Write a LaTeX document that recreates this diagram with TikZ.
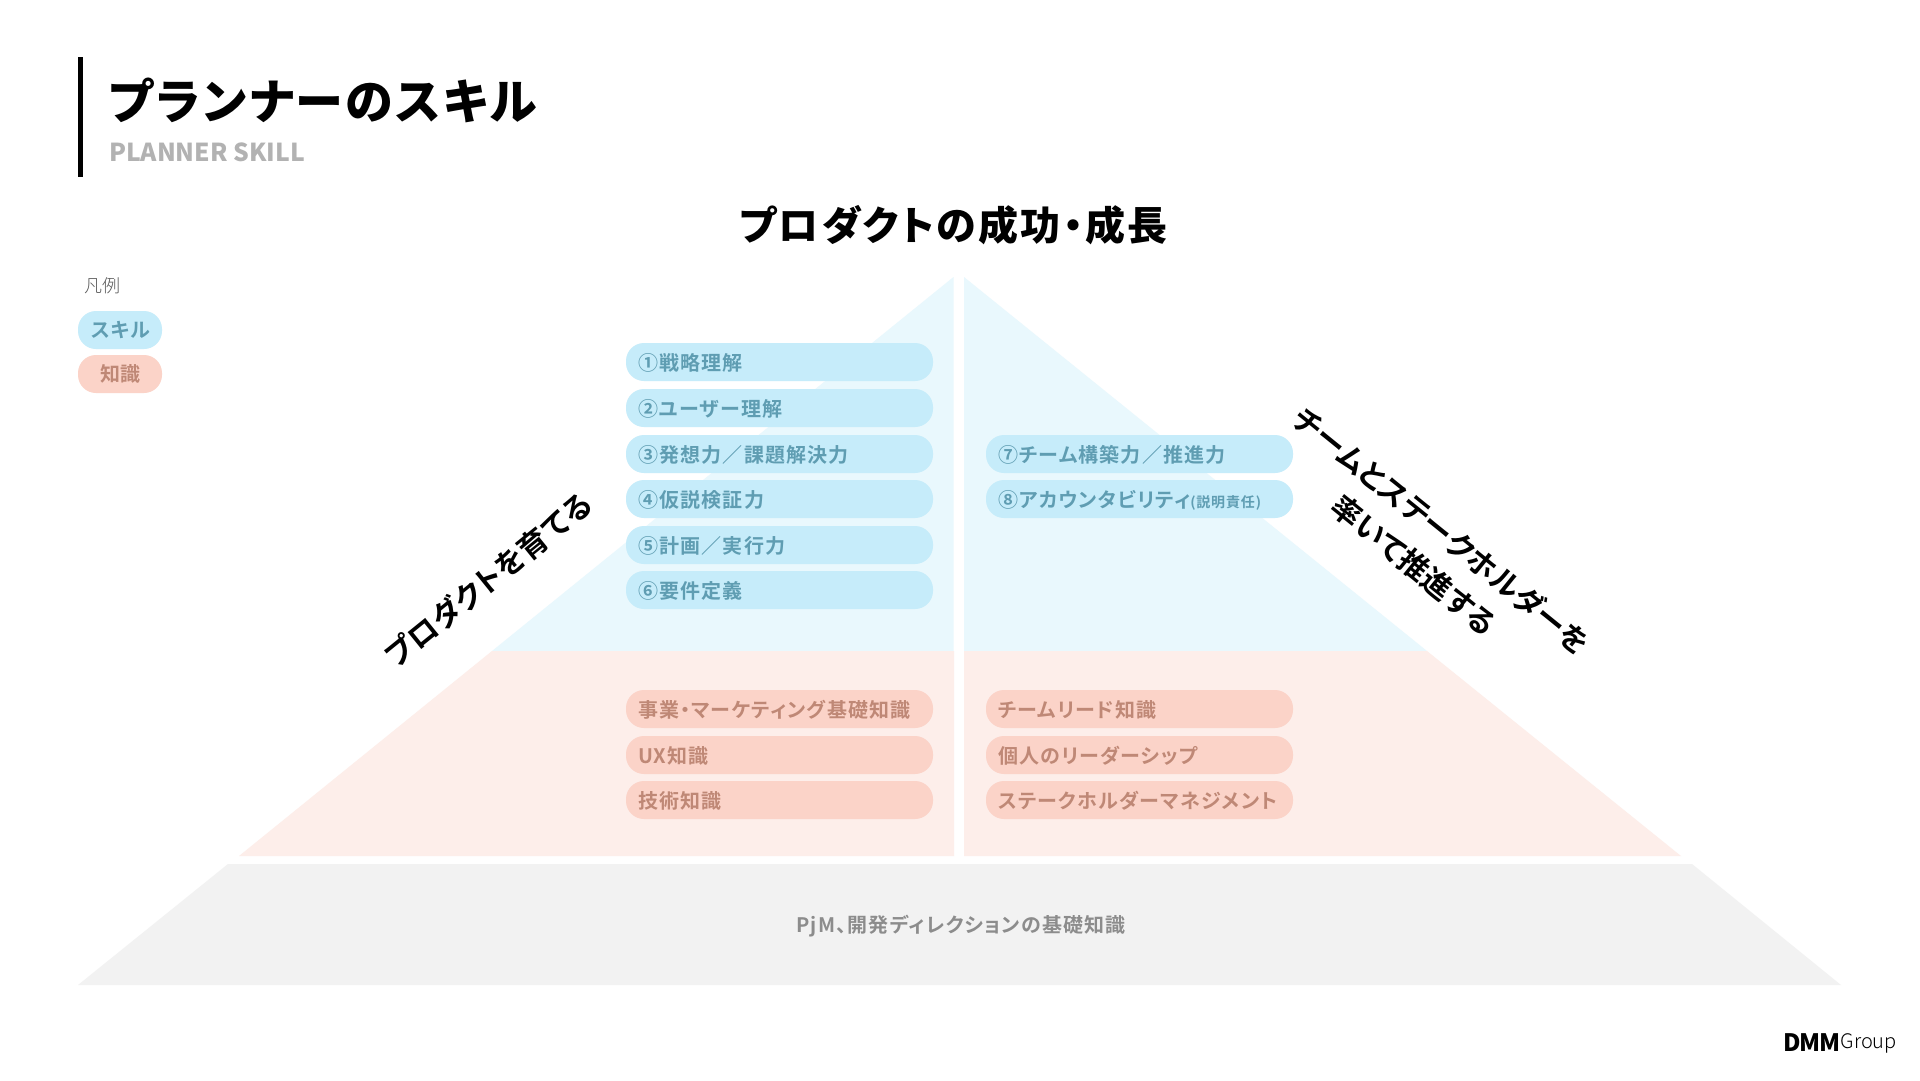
\documentclass[tikz,border=0pt]{standalone}
\usepackage{fontspec}
\setmainfont{Noto Sans CJK JP}
\newfontfamily\jpblack[RawFeature={+palt},LetterSpace=5.5]{Noto Sans CJK JP Black}
\newfontfamily\jpsub{Noto Sans CJK JP Black}
\newfontfamily\jpheading[RawFeature={+palt},LetterSpace=5.7]{Noto Sans CJK JP Black}
\newfontfamily\jpbold{Noto Sans CJK JP Bold}
\newfontfamily\jplight{Noto Sans CJK JP Light}
\newfontfamily\jpdemi[RawFeature={+palt},LetterSpace=1]{Noto Sans CJK JP Bold}
\newfontfamily\jpboldsp[RawFeature={+palt},LetterSpace=6]{Noto Sans CJK JP Bold}
\newfontfamily\dmmfont[LetterSpace=-5]{Noto Sans CJK JP Black}
\newcommand{\pxsize}[1]{\fontsize{#1pt}{#1pt}\selectfont}
\definecolor{bluebg}{HTML}{E9F8FD}
\definecolor{bluepill}{HTML}{C6ECFA}
\definecolor{bluetext}{HTML}{5F9DB2}
\definecolor{peachbg}{HTML}{FDEEEA}
\definecolor{peachpill}{HTML}{FBD3C8}
\definecolor{peachtext}{HTML}{BF8876}
\definecolor{graybg}{HTML}{F2F2F2}
\definecolor{graytext}{HTML}{8C8C8C}
\tikzset{
  x=1pt,y=-1pt,
  pill/.style={rounded corners=18pt,minimum height=38pt,inner ysep=0pt,inner xsep=12pt,
    text width=283pt,align=left,text height=18.6pt,text depth=1.4pt,
    font=\jpboldsp\pxsize{20}},
  skillpill/.style={pill,fill=bluepill,text=bluetext},
  knowpill/.style={pill,fill=peachpill,text=peachtext},
  legendpill/.style={rounded corners=18pt,minimum width=84pt,minimum height=38pt,inner sep=0pt,
    font=\jpbold\pxsize{20}},
  headline/.style={text=black,inner sep=0pt},
}
\begin{document}
\begin{tikzpicture}
\useasboundingbox (0,0) rectangle (1920,1080);
\fill[white] (0,0) rectangle (1920,1080);
% pyramid
\fill[bluebg] (953.5,277) -- (953.5,651) -- (492,651) -- cycle;
\fill[bluebg] (964,277) -- (1427,651) -- (964,651) -- cycle;
\fill[peachbg] (492,651) -- (954,651) -- (954,856) -- (239,856) -- cycle;
\fill[peachbg] (964,651) -- (1427,651) -- (1681,856) -- (964,856) -- cycle;
\fill[graybg] (228,864) -- (1692,864) -- (1841,985) -- (78,985) -- cycle;
% header
\fill[black] (78,57) rectangle (83,177);
\node[anchor=west,inner sep=0pt,font=\jpblack\pxsize{48}] (title) at (109,100) {プランナーのスキル};
\node[anchor=west,inner sep=0pt,font=\jpsub\pxsize{24.7},text=black!30] (subtitle) at (109,152) {PLANNER SKILL};
% legend
\node[anchor=west,inner sep=0pt,font=\jplight\pxsize{18},text=black!65] (legend) at (84,286) {凡例};
\node[legendpill,fill=bluepill,text=bluetext,anchor=center] (lskill) at (120,330) {スキル};
\node[legendpill,fill=peachpill,text=peachtext,anchor=center] (lknow) at (120,374) {知識};
% heading
\node[font=\jpheading\pxsize{40},inner sep=0pt] (goal) at (953.5,225) {プロダクトの成功・成長};
\node[headline,rotate=39,font=\jpdemi\pxsize{30}] (left) at (488,580) {プロダクトを育てる};
\node[headline,rotate=-39,align=center,font=\jpdemi\fontsize{30pt}{44pt}\selectfont] (right) at (1428,548) {チームとステークホルダーを\\率いて推進する};
% skills
\node[skillpill,anchor=center] (s1) at (779.5,362) {①戦略理解};
\node[skillpill,anchor=center] (s2) at (779.5,408) {②ユーザー理解};
\node[skillpill,anchor=center] (s3) at (779.5,454) {③発想力／課題解決力};
\node[skillpill,anchor=center] (s4) at (779.5,499) {④仮説検証力};
\node[skillpill,anchor=center] (s5) at (779.5,545) {⑤計画／実行力};
\node[skillpill,anchor=center] (s6) at (779.5,590) {⑥要件定義};
\node[skillpill,anchor=center] (s7) at (1139.5,454) {⑦チーム構築力／推進力};
\node[skillpill,anchor=center] (s8) at (1139.5,499) {⑧アカウンタビリティ{\pxsize{14}(説明責任)}};
% knowledge
\node[knowpill,anchor=center] (k1) at (779.5,709) {事業・マーケティング基礎知識};
\node[knowpill,anchor=center] (k2) at (779.5,755) {UX知識};
\node[knowpill,anchor=center] (k3) at (779.5,800) {技術知識};
\node[knowpill,anchor=center] (k4) at (1139.5,709) {チームリード知識};
\node[knowpill,anchor=center] (k5) at (1139.5,755) {個人のリーダーシップ};
\node[knowpill,anchor=center] (k6) at (1139.5,800) {ステークホルダーマネジメント};
% base
\node[font=\jpboldsp\pxsize{20},text=graytext,inner sep=0pt] (base) at (961,926) {PjM、開発ディレクションの基礎知識};
% logo
\node[anchor=west,inner sep=0pt,font=\dmmfont\pxsize{24}] (dmm) at (1783,1043) {DMM};
\node[anchor=east,inner sep=0pt,font=\jplight\pxsize{20}] (group) at (1897,1043) {Group};
\end{tikzpicture}
\end{document}
